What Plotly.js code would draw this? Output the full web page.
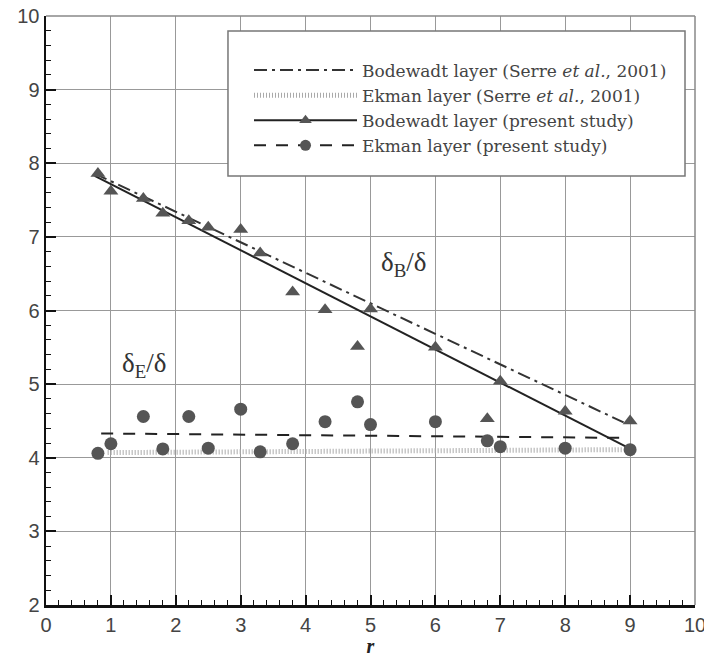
<!DOCTYPE html>
<html>
<head>
<meta charset="utf-8">
<script src="https://cdn.plot.ly/plotly-3.0.1.min.js"></script>
<style>html,body{margin:0;padding:0;background:#fff;}#chart{width:704px;height:657px;}</style>
</head>
<body>
<div id="chart"></div>
<script>
// Present study data points
const rBod = [0.8, 1.0, 1.5, 1.8, 2.2, 2.5, 3.0, 3.3, 3.8, 4.3, 4.8, 5.0, 6.0, 6.8, 7.0, 8.0, 9.0];
const deltaB = [7.86, 7.62, 7.52, 7.32, 7.22, 7.13, 7.10, 6.78, 6.25, 6.01, 5.51, 6.02, 5.50, 4.53, 5.04, 4.63, 4.50];
const rEk = [0.8, 1.0, 1.5, 1.8, 2.2, 2.5, 3.0, 3.3, 3.8, 4.3, 4.8, 5.0, 6.0, 6.8, 7.0, 8.0, 9.0];
const deltaE = [4.06, 4.19, 4.56, 4.12, 4.56, 4.13, 4.66, 4.08, 4.19, 4.49, 4.76, 4.45, 4.49, 4.23, 4.15, 4.13, 4.11];
// Fitted lines (present study)
const bodFitR = [0.75, 9.05];
const bodFitY = [7.83, 4.10];
const ekFitR = [0.85, 8.9];
const ekFitY = [4.33, 4.27];
// Serre et al., 2001
const bodSerreR = [0.75, 8.9];
const bodSerreY = [7.86, 4.48];
const ekSerreR = [0.95, 8.9];
const ekSerreY = [4.07, 4.11];

const names = [
  'Bodewadt layer (Serre <i>et al.</i>, 2001)',
  'Ekman layer (Serre <i>et al.</i>, 2001)',
  'Bodewadt layer (present study)',
  'Ekman layer (present study)'
];

const markerCol = '#555555';
const traces = [
  {x: bodSerreR, y: bodSerreY, mode: 'lines', name: names[0], showlegend: true,
   line: {color: '#333', width: 2, dash: '13px,5px,3px,5px'}},
  {x: ekSerreR, y: ekSerreY, mode: 'lines', name: names[1], showlegend: true,
   line: {color: '#aaaaaa', width: 5, dash: '1px,2px'}},
  {x: bodFitR, y: bodFitY, mode: 'lines', showlegend: false, hoverinfo: 'skip',
   line: {color: '#222', width: 2}},
  {x: ekFitR, y: ekFitY, mode: 'lines', showlegend: false, hoverinfo: 'skip',
   line: {color: '#222', width: 2, dash: '12px,10px'}},
  {x: rBod, y: deltaB, mode: 'markers', showlegend: false,
   marker: {symbol: 'triangle-up', size: 13, color: markerCol}},
  {x: rEk, y: deltaE, mode: 'markers', showlegend: false,
   marker: {symbol: 'circle', size: 13, color: markerCol}},
  {x: [null], y: [null], mode: 'lines+markers', name: names[2],
   line: {color: '#222', width: 2}, marker: {symbol: 'triangle-up', size: 11, color: markerCol}},
  {x: [null], y: [null], mode: 'lines+markers', name: names[3],
   line: {color: '#222', width: 2, dash: '12px,10px'}, marker: {symbol: 'circle', size: 11, color: markerCol}}
];

const tickFont = {family: 'Liberation Sans, Arial, sans-serif', size: 20, color: '#444'};
const axisCommon = {
  showline: true, linecolor: '#111', linewidth: 2.5,
  ticks: 'inside', ticklen: 10, tickwidth: 2, tickcolor: '#111',
  showgrid: true, gridcolor: '#999', gridwidth: 1,
  zeroline: false, tickfont: tickFont, fixedrange: true,
  ticklabeloverflow: 'allow',
  minor: {ticks: 'inside', ticklen: 5, tickwidth: 1, tickcolor: '#111', dtick: 0.2, showgrid: false}
};

const layout = {
  width: 704, height: 657,
  margin: {l: 46, r: 9, t: 16, b: 52},
  paper_bgcolor: '#fff', plot_bgcolor: '#fff',
  showlegend: true,
  legend: {
    x: 0.3128, y: 0.938, xanchor: 'left', yanchor: 'top',
    bgcolor: 'rgba(0,0,0,0)', borderwidth: 0,
    itemwidth: 103, tracegroupgap: 0,
    font: {family: 'DejaVu Serif, serif', size: 17, color: '#444'}
  },
  xaxis: Object.assign({}, axisCommon, {
    range: [0, 10], dtick: 1, tick0: 0,
    title: {text: '<b><i>r</i></b>', font: {family: 'Liberation Serif, serif', size: 20, color: '#222'}, standoff: 2}
  }),
  yaxis: Object.assign({}, axisCommon, {
    range: [2, 10], dtick: 1, tick0: 0
  }),
  shapes: [
    {type: 'line', xref: 'paper', yref: 'paper', x0: 0, x1: 1, y0: 1, y1: 1, line: {color: '#888', width: 1.5}},
    {type: 'line', xref: 'paper', yref: 'paper', x0: 1, x1: 1, y0: 0, y1: 1, line: {color: '#888', width: 1.5}},
    {type: 'rect', xref: 'paper', yref: 'paper', x0: 0.2804, x1: 0.9846, y0: 0.7284, y1: 0.9745,
     layer: 'above', fillcolor: '#fff', line: {color: '#777', width: 1.5}}
  ],
  annotations: [
    {x: 5.52, y: 6.63, xref: 'x', yref: 'y', text: 'δ<sub>B</sub>/δ', showarrow: false,
     font: {family: 'Liberation Serif, Times New Roman, serif', size: 27, color: '#333'}},
    {x: 1.51, y: 5.26, xref: 'x', yref: 'y', text: 'δ<sub>E</sub>/δ', showarrow: false,
     font: {family: 'Liberation Serif, Times New Roman, serif', size: 27, color: '#333'}}
  ]
};

Plotly.newPlot('chart', traces, layout, {displayModeBar: false, staticPlot: true});
</script>
</body>
</html>
